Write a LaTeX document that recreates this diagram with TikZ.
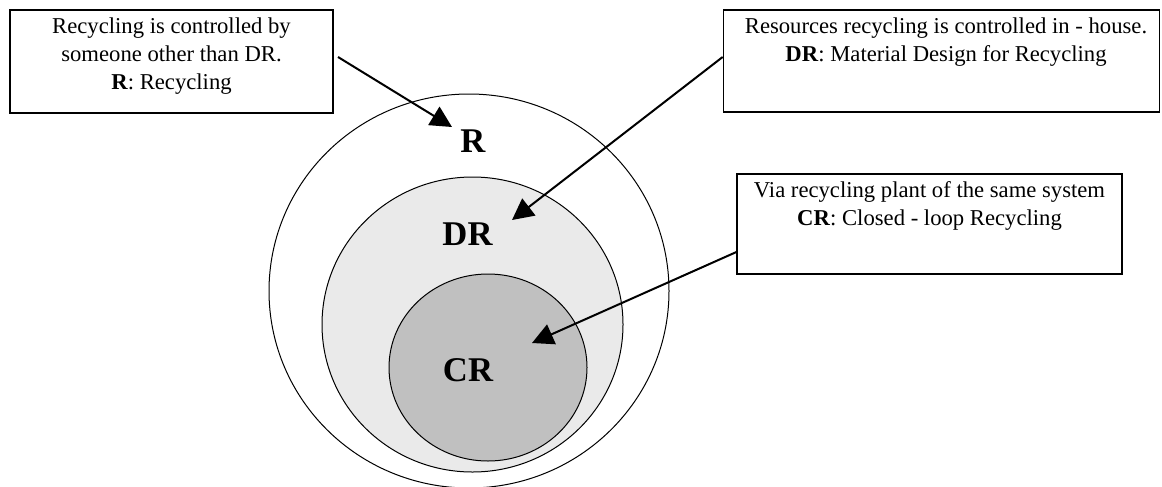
\documentclass[tikz,border=0pt]{standalone}
\usepackage{fontspec}
\setmainfont{Liberation Serif}
\usetikzlibrary{arrows.meta}
\definecolor{lightfill}{HTML}{EAEAEA}
\definecolor{darkfill}{HTML}{C0C0C0}
\begin{document}
\begin{tikzpicture}[x=0.75pt,y=-0.75pt,
  notebox/.style={draw=black,line width=0.9pt,rectangle,inner sep=0pt},
  notetext/.style={anchor=north,inner sep=0pt,align=center,
    font=\fontsize{17pt}{21pt}\selectfont},
  setlabel/.style={inner sep=0pt,font=\fontsize{26pt}{30pt}\selectfont\bfseries},
  ring/.style={draw=black,line width=0.75pt},
  pointer/.style={line width=1.5pt,-{Triangle[length=16pt,width=16pt]}}]
\useasboundingbox (0,0) rectangle (1162,486);
% circles
\draw[ring] (469,291) ellipse [x radius=200, y radius=197];
\draw[ring,fill=lightfill] (472.5,324.5) ellipse [x radius=150.5, y radius=147.5];
\draw[ring,fill=darkfill] (488,367.5) ellipse [x radius=99, y radius=93.5];
% labels
\node[setlabel] (lR) at (473,141) {R};
\node[setlabel] (lDR) at (467.5,234) {DR};
\node[setlabel] (lCR) at (468,370) {CR};
% boxes
\node[notebox,minimum width=323*0.75pt,minimum height=103*0.75pt] (b1) at (171.5,61.5) {};
\node[notetext] (t1) at (171.5,17.5) {Recycling is controlled by\\someone other than DR.\\\textbf{R}: Recycling};
\node[notebox,minimum width=436.5*0.75pt,minimum height=102*0.75pt] (b2) at (941.5,61) {};
\node[notetext] (t2) at (946,17.5) {Resources recycling is controlled in - house.\\\textbf{DR}: Material Design for Recycling};
\node[notebox,minimum width=385*0.75pt,minimum height=100*0.75pt] (b3) at (929.5,224) {};
\node[notetext] (t3) at (929.5,181.5) {Via recycling plant of the same system\\\textbf{CR}: Closed - loop Recycling};
% arrow tips
\coordinate (tipR) at (452,127);
\coordinate (tipDR) at (512,220);
\coordinate (tipCR) at (532,343);
\coordinate (startR) at (338,57);
% arrows
\draw[pointer] (startR) -- (tipR);
\draw[pointer] (b2.west |- 0,57) -- (tipDR);
\draw[pointer] (b3.west |- 0,252) -- (tipCR);
\end{tikzpicture}
\end{document}
